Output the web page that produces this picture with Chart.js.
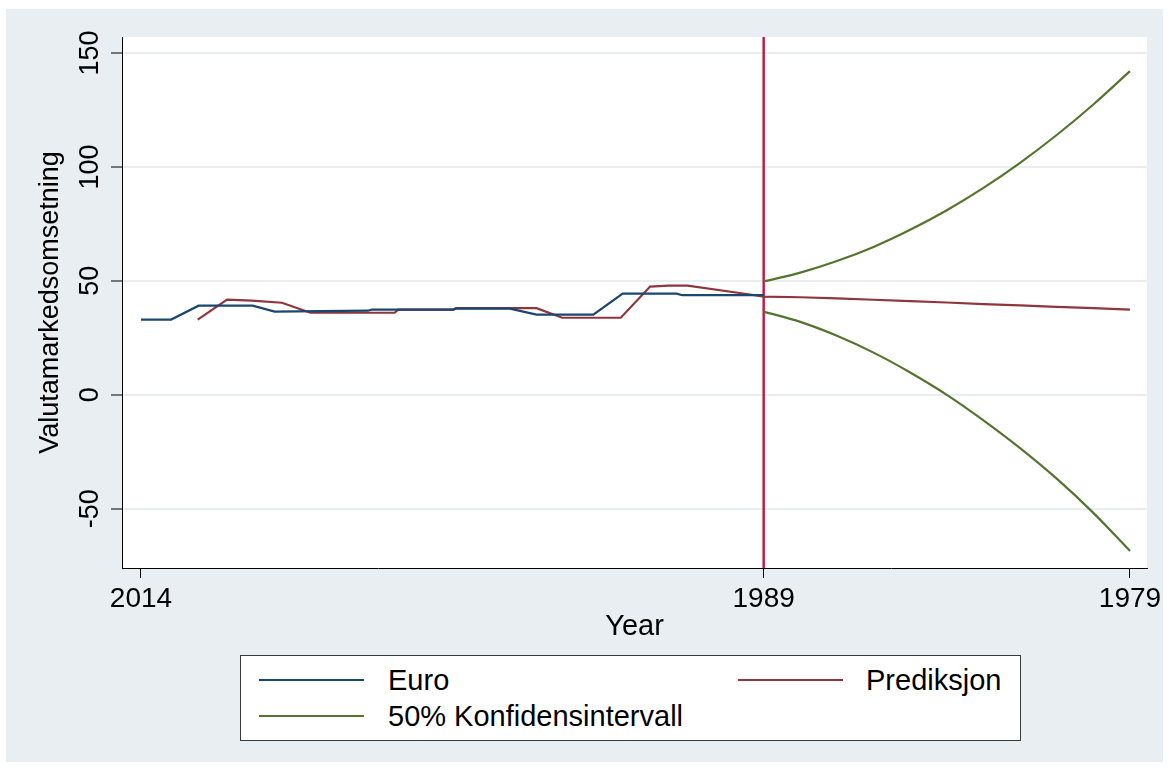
<!DOCTYPE html>
<html>
<head>
<meta charset="utf-8">
<script src="https://cdn.jsdelivr.net/npm/chart.js@4.4.1/dist/chart.umd.min.js"></script>
<style>
html,body{margin:0;padding:0;background:#ffffff;}
body{width:1170px;height:768px;position:relative;overflow:hidden;font-family:"Liberation Sans",Arial,sans-serif;}
#panel{position:absolute;left:6px;top:9px;width:1157px;height:753px;background:#e9eef3;}
#wrap{position:absolute;left:0;top:0;width:1170px;height:768px;}
#legend{position:absolute;left:240px;top:655px;width:781px;height:86px;box-sizing:border-box;border:1px solid #3a3a3a;background:#ffffff;}
.sw{position:absolute;height:2px;}
.lt{position:absolute;font-size:29px;line-height:34px;color:#000;white-space:nowrap;}
</style>
</head>
<body>
<div id="panel"></div>
<div id="wrap"><canvas id="c" width="1170" height="768"></canvas></div>
<div id="legend"></div>
<script>
// ---- data (x = period index) ----
const xTickValues = [0, 68, 108];
const xTickLabels = ['2014', '1989', '1979'];
const yTickValues = [-50, 0, 50, 100, 150];

const euroX = [0, 3.3, 6.3, 12.2, 14.6, 24.8, 25.2, 34.1, 34.4, 40.3, 43.2, 49.4, 52.6, 58.5, 59.1, 68];
const euroY = [33.0, 33.0, 39.1, 39.1, 36.5, 36.9, 37.4, 37.4, 37.8, 37.8, 35.2, 35.2, 44.4, 44.4, 43.7, 43.7];

const predX = [6.2, 9.4, 12.1, 15.4, 18.5, 27.7, 28.1, 34.1, 34.4, 43.2, 46.0, 52.4, 55.6, 57.6, 59.7, 66.5, 68,
               72, 76, 80, 84, 88, 92, 96, 100, 104, 108];
const predY = [33.0, 41.8, 41.3, 40.4, 36.0, 36.0, 37.4, 37.4, 38.0, 38.0, 33.8, 33.8, 47.5, 47.9, 47.9, 44.0, 43.1,
               42.8, 42.3, 41.7, 41.1, 40.5, 39.8, 39.2, 38.6, 38.0, 37.4];

const ciX = [68, 72, 76, 80, 84, 88, 92, 96, 100, 104, 108];
const upperY = [49.7, 53.6, 58.7, 64.9, 72.4, 81.0, 90.8, 101.8, 114.0, 127.4, 142.0];
const lowerY = [36.5, 32.0, 25.9, 18.5, 9.8, 0.0, -11.2, -23.4, -36.8, -51.8, -68.5];

const cutX = [68, 68];
const cutY = [-76, 157];

const labels = {euro: 'Euro', pred: 'Prediksjon', ci: '50% Konfidensintervall'};
const colors = {euro: '#1a476f', pred: '#90353b', ci: '#55752f', cut: '#c8103a'};

const pts = (xs, ys) => xs.map((x, i) => ({x: x, y: ys[i]}));

const bgPlugin = {
  id: 'bg',
  beforeDraw(chart) {
    const {ctx, chartArea: a} = chart;
    ctx.save();
    ctx.fillStyle = '#ffffff';
    ctx.fillRect(a.left, a.top, a.right - a.left, a.bottom - a.top);
    ctx.restore();
  }
};
const yLabelPlugin = {
  id: 'ylabels',
  afterDraw(chart) {
    const {ctx} = chart;
    const y = chart.scales.y;
    ctx.save();
    ctx.fillStyle = '#000';
    ctx.font = '27px "Liberation Sans", Arial, sans-serif';
    ctx.textAlign = 'center';
    ctx.textBaseline = 'middle';
    yTickValues.forEach(v => {
      const py = y.getPixelForValue(v);
      ctx.save();
      ctx.translate(91, py);
      ctx.rotate(-Math.PI / 2);
      ctx.fillText(String(v), 0, 0);
      ctx.restore();
    });
    ctx.restore();
  }
};

const lineDs = (label, data, color, w, extra) => Object.assign({
  label: label, data: data, borderColor: color, backgroundColor: color,
  borderWidth: w, pointRadius: 0, fill: false, tension: 0
}, extra || {});

new Chart(document.getElementById('c'), {
  type: 'line',
  data: {
    datasets: [
      lineDs(labels.euro, pts(euroX, euroY), colors.euro, 2.2),
      lineDs(labels.pred, pts(predX, predY), colors.pred, 2.2),
      lineDs(labels.ci, pts(ciX, upperY), colors.ci, 2.2, {cubicInterpolationMode: 'monotone'}),
      lineDs('lower', pts(ciX, lowerY), colors.ci, 2.2, {cubicInterpolationMode: 'monotone'}),
      lineDs('cut', pts(cutX, cutY), colors.cut, 2.4)
    ]
  },
  options: {
    responsive: false,
    animation: false,
    events: [],
    layout: {padding: {left: 30, top: 37, right: 23, bottom: 120}},
    plugins: {legend: {display: false}, tooltip: {enabled: false}},
    scales: {
      x: {
        type: 'linear', min: -2.07, max: 109.86,
        afterBuildTicks: s => { s.ticks = xTickValues.map(v => ({value: v})); },
        afterFit: s => { s.height = 80; },
        border: {display: true, color: '#000', width: 1},
        grid: {drawOnChartArea: false, drawTicks: true, tickLength: 10, tickColor: '#000', tickWidth: 1},
        ticks: {
          autoSkip: false, maxRotation: 0, minRotation: 0, padding: 4, color: '#000',
          font: {family: '"Liberation Sans", Arial, sans-serif', size: 28},
          callback: v => { const i = xTickValues.indexOf(v); return i >= 0 ? xTickLabels[i] : ''; }
        },
        title: {display: true, text: 'Year', color: '#000',
          font: {family: '"Liberation Sans", Arial, sans-serif', size: 29}, padding: {top: 4, bottom: 4}}
      },
      y: {
        type: 'linear', min: -76, max: 157,
        afterBuildTicks: s => { s.ticks = yTickValues.map(v => ({value: v})); },
        afterFit: s => { s.width = 92; },
        border: {display: true, color: '#000', width: 1},
        grid: {drawOnChartArea: true, color: '#e9eef0', lineWidth: 2, drawTicks: true, tickLength: 11, tickColor: '#000', tickWidth: 1},
        ticks: {color: 'rgba(0,0,0,0)', padding: 2, font: {size: 10}},
        title: {display: true, text: 'Valutamarkedsomsetning', color: '#000',
          font: {family: '"Liberation Sans", Arial, sans-serif', size: 27}, padding: {top: 4, bottom: 4}}
      }
    }
  },
  plugins: [bgPlugin, yLabelPlugin]
});

// ---- legend (HTML, real text) ----
const lg = document.getElementById('legend');
const legendItems = [
  {key: 'euro', sx: 18, tx: 147, cy: 24},
  {key: 'pred', sx: 497, tx: 625, cy: 24},
  {key: 'ci', sx: 18, tx: 147, cy: 60}
];
legendItems.forEach(it => {
  const sw = document.createElement('div');
  sw.className = 'sw';
  sw.style.left = it.sx + 'px';
  sw.style.width = '105px';
  sw.style.top = (it.cy - 1) + 'px';
  sw.style.background = colors[it.key];
  lg.appendChild(sw);
  const t = document.createElement('div');
  t.className = 'lt';
  t.style.left = it.tx + 'px';
  t.style.top = (it.cy - 17) + 'px';
  t.textContent = labels[it.key];
  lg.appendChild(t);
});
</script>
</body>
</html>
